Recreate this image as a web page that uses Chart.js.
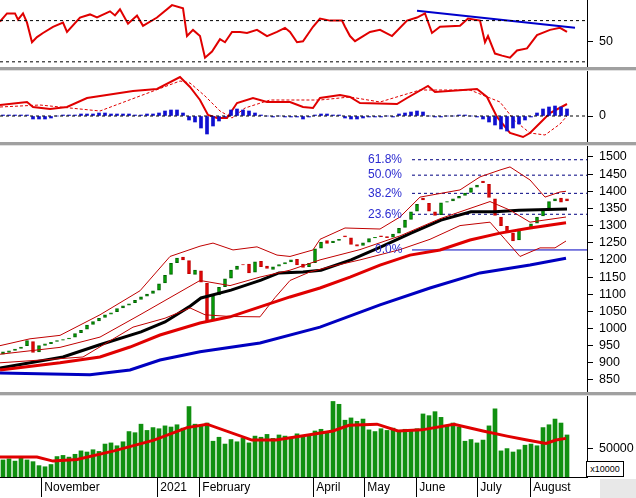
<!DOCTYPE html>
<html lang="en">
  <head>
    <meta charset="UTF-8" />
    <title>Index chart</title>
  </head>
  <style>
    * { margin: 0; padding: 0; }
    body { width: 636px; height: 498px; background: #fff; position: relative; overflow: hidden; font-family: "Liberation Sans", sans-serif; }
    .pane { position: absolute; left: 0; width: 636px; }
    .sep { position: absolute; left: 0; width: 636px; height: 3px; background: #a0a0a0; border-bottom: 1px solid #e0e0e0; }
    .unit { position: absolute; left: 586px; top: 461px; width: 36px; height: 14px; border: 1px solid #000; font-size: 9px; line-height: 14px; text-align: center; background: #fff; }
    .corner { position: absolute; left: 600px; top: 479px; width: 36px; height: 19px; background: #e8e8e8; }
  </style>
  <body>
    <div class="pane" style="top:0;height:68px"><canvas id="rsiChart"></canvas></div>
    <div class="sep" style="top:67px"></div>
    <div class="pane" style="top:71px;height:71px"><canvas id="macdChart"></canvas></div>
    <div class="sep" style="top:142px"></div>
    <div class="pane" style="top:146px;height:247px"><canvas id="priceChart"></canvas></div>
    <div class="sep" style="top:392px"></div>
    <div class="pane" style="top:396px;height:102px"><canvas id="volChart"></canvas></div>
    <div class="corner"></div>
    <div class="unit">x10000</div>

    <script src="https://cdn.jsdelivr.net/npm/chart.js"></script>

    <script>
      // candles, one per session pair (drawn at t = 3 + 6*i)
      const opens = [925,930,936,942,950,962,932,951,956,962,966,970,975,988,998,1012,1022,1032,1042,1049,
        1060,1068,1075,1085,1094,1102,1112,1133,1158,1192,1208,1198,1158,1168,1132,1022,1098,1122,1147,1172,
        1186,1188,1164,1196,1182,1172,1182,1188,1194,1202,1188,1180,1192,1234,1256,1250,1257,1270,1264,1245,
        1242,1252,1264,1270,1268,1266,1278,1295,1318,1342,1380,1365,1340,1332,1368,1372,1380,1388,1397,1412,
        1430,1420,1378,1325,1298,1278,1258,1292,1290,1307,1328,1350,1372,1380,1378];
      const closes = [932,935,940,946,965,930,950,955,960,965,968,972,985,995,1010,1020,1030,1040,1046,1058,
        1066,1072,1082,1092,1100,1110,1130,1155,1190,1205,1200,1160,1170,1135,1020,1095,1120,1145,1170,1182,
        1185,1162,1194,1180,1175,1180,1186,1192,1200,1185,1178,1190,1232,1252,1248,1255,1260,1267,1245,1240,
        1250,1262,1266,1268,1265,1275,1292,1316,1340,1362,1375,1342,1330,1366,1370,1378,1385,1395,1410,1418,
        1425,1382,1330,1300,1282,1255,1290,1288,1305,1325,1348,1370,1378,1368,1372];
      // volume in thousands of x10000 units
      const volK = [30,32,28,33,30,27,20,18,22,36,38,35,40,46,44,48,45,58,60,55,62,80,78,93,82,
        87,85,90,88,92,86,124,93,90,95,63,70,58,66,62,68,60,72,70,75,68,74,72,70,76,73,72,
        81,84,80,133,128,100,104,98,102,83,80,85,82,86,80,84,83,85,111,108,115,105,91,95,88,
        63,66,60,65,90,120,46,50,44,48,56,58,55,87,92,102,95,74];
      const macdHist = [1,1,1,1,1,-3,-3,-3,-2,0,1,1,1,2,2,2,3,3,2,2,2,2,1,1,2,2,3,5,6,6,3,
        -4,-6,-12,-18,-10,-5,-1,6,7,6,5,3,1,0,-1,0,-1,-1,-1,-3,-1,1,2,2,1,1,-2,-3,-3,-2,-1,
        -1,-1,0,-1,2,3,4,5,4,0,-1,-1,0,0,1,1,0,-1,-3,-6,-9,-13,-15,-12,-8,-4,-1,3,7,9,10,9,7];

      // indicator lines: t position and value
      const ma50T = [0,63,99,141,165,189,201,231,261,279,303,321,351,381,411,441,471,495,519,567];
      const ma50V = [885,917,952,990,1019,1063,1089,1112,1141,1162,1165,1170,1200,1238,1278,1316,1340,1340,1345,1348];
      const ma100T = [0,60,100,130,160,200,230,260,290,320,350,380,410,440,470,500,530,566];
      const ma100V = [879,900,917,946,981,1016,1034,1063,1092,1118,1150,1185,1214,1229,1258,1278,1293,1308];
      const ma200T = [0,90,130,160,200,260,320,380,430,480,530,566];
      const ma200V = [870,865,879,908,932,958,1004,1069,1118,1162,1185,1205];
      const bbUpT = [0,30,60,100,140,170,200,213,233,257,277,290,313,320,345,380,400,420,460,480,500,510,530,545,560,566];
      const bbUpV = [950,970,980,1040,1110,1210,1240,1249,1229,1238,1214,1210,1229,1260,1293,1290,1325,1383,1404,1442,1462,1471,1433,1383,1398,1400];
      const bbLoT = [0,50,83,133,165,190,205,230,260,275,290,310,330,360,400,430,460,490,505,520,540,555,566];
      const bbLoV = [900,910,917,1004,1030,1060,1040,1035,1034,1090,1140,1165,1180,1200,1230,1260,1300,1310,1260,1210,1235,1235,1255];
      const bbMidT = [0,60,100,140,170,200,230,260,290,320,360,400,440,470,490,510,530,566];
      const bbMidV = [925,945,975,1040,1090,1140,1125,1150,1170,1200,1230,1270,1320,1350,1370,1345,1310,1325];
      const rsiT = [0,7,15,18,23,27,32,37,43,53,63,67,80,90,97,110,115,120,128,137,143,157,172,183,187,193,200,205,212,220,225,232,240,247,257,267,277,285,290,297,303,313,
        320,330,342,345,350,355,370,380,392,407,417,425,432,440,460,468,480,485,488,495,502,510,517,527,537,550,560,567];
      const rsiV = [69,77,77,71,77,68,49,54,58,64,68,59,73,76,73,79,75,81,67,75,65,73,85,82,55,61,55,34,40,52,49,59,59,58,61,55,59,63,59,49,50,64,
        72,70,70,64,55,50,59,61,55,70,73,77,58,64,65,72,70,49,55,38,36,34,41,43,56,61,63,59];
      const macdT = [0,27,33,50,67,87,133,157,180,190,200,208,217,227,237,253,267,290,303,313,320,340,350,360,397,407,428,435,477,487,497,510,523,530,540,550,567];
      const macdV = [11,14,9,7,9,18,25,27,39,29,16,1,-2,-2,13,18,14,14,9,8,18,21,19,13,12,18,30,24,27,19,-1,-17,-21,-17,-7,3,12];
      const sigT = [0,40,70,100,180,190,205,220,232,245,270,320,350,380,420,470,500,515,530,545,560,567];
      const sigV = [9,11,8,5,35,33,20,5,-2,8,16,16,19,14,26,26,14,-5,-17,-19,-8,0];
      const volMaT = [0,37,53,77,114,154,187,207,252,276,308,333,349,377,398,422,454,483,507,527,546,556,566];
      const volMaK = [35,35,28,31,46,65,87,93,65,65,74,81,91,93,81,83,93,81,72,65,59,65,68];
      const rsiTrendT = [417, 575];
      const rsiTrendV = [79.6, 63];

      const fibLabels = ["61.8%", "50.0%", "38.2%", "23.6%"];
      const fibLevels = [1492, 1447, 1394, 1333];
      const fibBase = 1229;
      const priceTicks = [850,900,950,1000,1050,1100,1150,1200,1250,1300,1350,1400,1450,1500];
      const months = ["November", "2021", "February", "April", "May", "June", "July", "August"];
      const monthT = [41, 157, 199, 313, 364, 416, 477, 530];

      Chart.defaults.font.family = "'Liberation Sans', Arial, sans-serif";
      Chart.defaults.color = "#000";
      Chart.defaults.animation = false;

      const zip = (ts, vs, k = 1) => ts.map((t, i) => ({ x: t, y: vs[i] * k }));
      const candleT = closes.map((c, i) => 3 + 6 * i);

      function line(data, color, width, dash) {
        return { type: "line", data, borderColor: color, borderWidth: width, borderDash: dash || [],
          pointRadius: 0, tension: 0, fill: false };
      }

      function makeChart(id, datasets, yMin, yMax, yTicks, showX, extraPlugins) {
        const x = {
          type: "linear", min: 0, max: 587, display: showX, offset: false,
          grid: { offset: false, drawOnChartArea: false, tickLength: 20, color: "#000" }
        };
        if (showX) {
          Object.assign(x, {
            afterBuildTicks: (s) => { s.ticks = monthT.map((v) => ({ value: v })); },
            afterFit: (s) => { s.height = 21; s.paddingLeft = 0; s.paddingRight = 0; },
            ticks: { align: "start", padding: -17, font: { size: 12 }, maxRotation: 0, autoSkip: false,
              callback: (v, i) => " " + months[i] },
            border: { color: "#000" }
          });
        }
        return new Chart(document.getElementById(id), {
          data: { datasets },
          options: {
            responsive: true, maintainAspectRatio: false,
            layout: { padding: 0 },
            plugins: { legend: { display: false }, tooltip: { enabled: false } },
            scales: {
              x,
              y: {
                position: "right", min: yMin, max: yMax,
                afterBuildTicks: (s) => { s.ticks = yTicks.map((v) => ({ value: v })); },
                afterFit: (s) => { s.width = 49; s.paddingTop = 0; s.paddingBottom = 0; },
                ticks: { font: { size: 12.5 }, padding: 6, autoSkip: false, callback: (v) => String(v) },
                grid: { drawOnChartArea: false, tickLength: 6, color: "#000" },
                border: { color: "#000" }
              }
            }
          },
          plugins: extraPlugins || []
        });
      }

      // RSI
      makeChart("rsiChart", [
        line([{ x: 0, y: 70 }, { x: 587, y: 70 }], "#000", 1, [3, 3]),
        line([{ x: 0, y: 30 }, { x: 587, y: 30 }], "#000", 1, [3, 3]),
        line(zip(rsiT, rsiV), "#e00000", 2),
        line(zip(rsiTrendT, rsiTrendV), "#0000cc", 2)
      ], 24, 90, [50], false);

      // MACD
      makeChart("macdChart", [
        line([{ x: 0, y: 0 }, { x: 587, y: 0 }], "#000", 1, [3, 3]),
        { type: "bar", data: zip(candleT, macdHist), backgroundColor: "#1010d0", barThickness: 3 },
        line(zip(sigT, sigV), "#e00000", 1, [3, 2]),
        line(zip(macdT, macdV), "#e00000", 2)
      ], -26, 45, [0], false);

      // price
      const fibPlugin = {
        id: "fib",
        afterDatasetsDraw(chart) {
          const { ctx, scales } = chart;
          ctx.save();
          ctx.font = "12px 'Liberation Sans', Arial, sans-serif";
          ctx.fillStyle = "#2b2bd0";
          ctx.textBaseline = "middle";
          fibLabels.forEach((lab, i) => ctx.fillText(lab, 368, scales.y.getPixelForValue(fibLevels[i])));
          ctx.fillText("0.0%", 375, scales.y.getPixelForValue(fibBase));
          ctx.restore();
        }
      };
      const priceSets = [
        line(zip(bbUpT, bbUpV), "#c00000", 1),
        line(zip(bbLoT, bbLoV), "#c00000", 1),
        line(zip(bbMidT, bbMidV), "#c00000", 1),
        line(zip(ma200T, ma200V), "#0000c0", 3),
        line(zip(ma100T, ma100V), "#e00000", 3),
        line(zip(ma50T, ma50V), "#000", 3),
        line([{ x: 412, y: fibBase }, { x: 587, y: fibBase }], "#0000c0", 1),
        {
          type: "bar",
          data: candleT.map((t, i) => ({ x: t, y: [opens[i], closes[i]] })),
          backgroundColor: closes.map((c, i) => (c >= opens[i] ? "#00a000" : "#e00000")),
          borderColor: closes.map((c, i) => (c >= opens[i] ? "#006000" : "#c00000")),
          borderWidth: 1, borderSkipped: false, barThickness: 3
        }
      ];
      fibLevels.forEach((lv) => priceSets.push(line([{ x: 412, y: lv }, { x: 587, y: lv }], "#000080", 1, [3, 3])));
      makeChart("priceChart", priceSets, 812, 1532, priceTicks, false, [fibPlugin]);

      // volume
      makeChart("volChart", [
        line(zip(volMaT, volMaK, 1000), "#e00000", 3),
        { type: "bar", data: zip(candleT, volK, 1000), backgroundColor: "#109010", barThickness: 4 }
      ], 0, 142600, [50000], true);
    </script>
  </body>
</html>
